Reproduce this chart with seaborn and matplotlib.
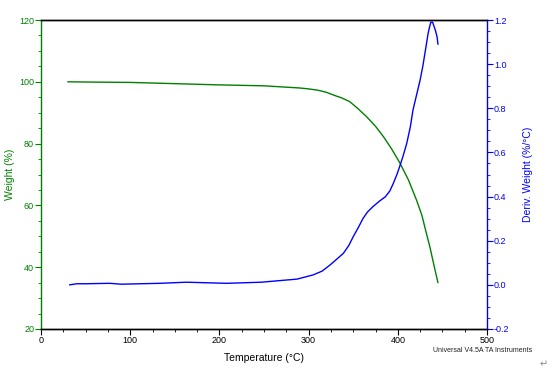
import seaborn as sns
import matplotlib.pyplot as plt
from matplotlib.ticker import MultipleLocator
import pandas as pd

sns.set_style("white")
plt.rcParams['font.family'] = ['Liberation Sans', 'DejaVu Sans']

# Weight curve (TGA)
temp_w = [30, 60, 100, 150, 200, 250, 290, 300, 310, 320, 328, 337, 346, 355, 365, 375,
          384, 393, 402, 412, 421, 427, 432, 436, 440, 443, 445]
weight = [100.0, 99.9, 99.8, 99.4, 99.0, 98.7, 98.0, 97.7, 97.3, 96.6, 95.7, 94.8, 93.6,
          91.4, 88.7, 85.6, 82.2, 78.3, 73.9, 68.2, 61.7, 56.8, 51.0, 46.5, 41.3, 37.5, 35.0]

# Derivative weight curve (DTG)
temp_d = [32, 40, 50, 77, 90, 133, 163, 208, 247, 264, 287, 305, 315, 324, 332, 339, 345,
          350, 356, 361, 366, 372, 379, 386, 391, 395, 399, 402, 406, 410, 414, 417, 421,
          425, 428, 431, 434, 436, 437, 439, 442, 444, 445]
deriv = [0.0, 0.005, 0.005, 0.007, 0.003, 0.007, 0.012, 0.007, 0.012, 0.018, 0.026, 0.045,
         0.062, 0.09, 0.118, 0.143, 0.178, 0.218, 0.262, 0.301, 0.33, 0.354, 0.378, 0.399,
         0.425, 0.46, 0.5, 0.535, 0.585, 0.641, 0.715, 0.792, 0.86, 0.928, 0.99, 1.064,
         1.14, 1.175, 1.19, 1.19, 1.155, 1.124, 1.09]

df_w = pd.DataFrame({"Temperature": temp_w, "Weight": weight})
df_d = pd.DataFrame({"Temperature": temp_d, "Deriv": deriv})

green = "#008000"
blue = "#0000ff"

fig = plt.figure(figsize=(5.55, 3.76), dpi=100)
ax = fig.add_axes([0.0739, 0.125, 0.8036, 0.8218])
ax2 = ax.twinx()

sns.lineplot(data=df_w, x="Temperature", y="Weight", color=green, lw=1, ax=ax)
sns.lineplot(data=df_d, x="Temperature", y="Deriv", color=blue, lw=1, ax=ax2)

ax.set_xlim(0, 500)
ax.set_ylim(20, 120)
ax2.set_ylim(-0.2, 1.2)

ax.xaxis.set_major_locator(MultipleLocator(100))
ax.xaxis.set_minor_locator(MultipleLocator(25))
ax.yaxis.set_major_locator(MultipleLocator(20))
ax.yaxis.set_minor_locator(MultipleLocator(5))
ax2.yaxis.set_major_locator(MultipleLocator(0.2))
ax2.yaxis.set_minor_locator(MultipleLocator(0.05))
ax2.yaxis.set_major_formatter(plt.FormatStrFormatter("%.1f"))

for a in (ax, ax2):
    for s in a.spines.values():
        s.set_linewidth(1)
        s.set_color("black")
ax.spines["left"].set_color(green)
ax2.spines["left"].set_visible(False)
ax2.spines["right"].set_color(blue)
ax.spines["right"].set_visible(False)

ax.tick_params(axis="x", which="both", direction="out", bottom=True, colors="black",
               labelsize=6.5, pad=1)
ax.tick_params(axis="x", which="major", length=4)
ax.tick_params(axis="x", which="minor", length=2)
ax.tick_params(axis="y", which="both", direction="out", left=True, colors=green,
               labelsize=6.5, pad=1)
ax.tick_params(axis="y", which="major", length=4)
ax.tick_params(axis="y", which="minor", length=2)
ax2.tick_params(axis="y", which="both", direction="out", right=True, colors=blue,
                labelsize=6.5, pad=1)
ax2.tick_params(axis="y", which="major", length=4)
ax2.tick_params(axis="y", which="minor", length=2)

ax.set_xlabel("Temperature (°C)", fontsize=7.5, color="black", labelpad=6)
ax.set_ylabel("Weight (%)", fontsize=7.5, color=green, labelpad=3)
ax2.set_ylabel("Deriv. Weight (%/°C)", fontsize=7.5, color=blue, labelpad=10)

fig.text(0.780, 0.063, "Universal V4.5A TA Instruments", fontsize=5, color="#222222")
fig.text(0.972, 0.022, "↵", fontsize=7, color="#888888")

fig.savefig("out.png", dpi=100)
